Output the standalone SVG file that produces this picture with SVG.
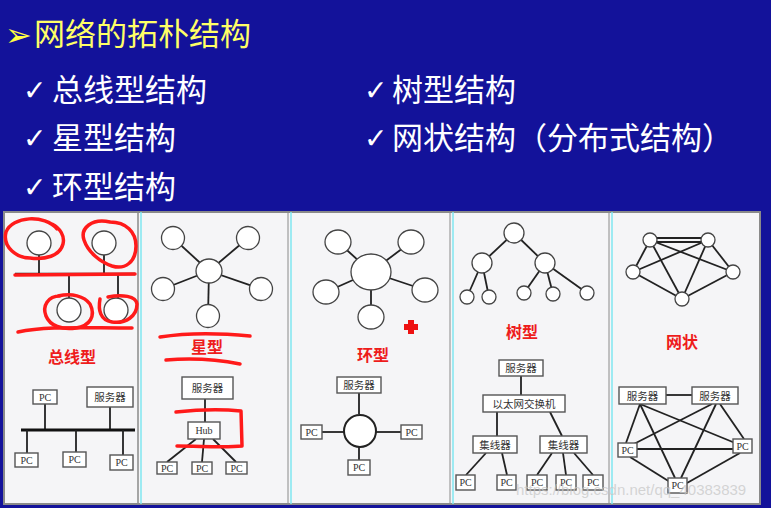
<svg xmlns="http://www.w3.org/2000/svg" width="771" height="508" viewBox="0 0 771 508">
<defs>
<style>
.hd{font-family:"Noto Sans CJK SC","Noto Sans",sans-serif;fill:#ffffff;font-size:31px}
.chk{font-family:"DejaVu Sans",sans-serif;fill:#ffffff;font-size:28px;font-weight:bold}
.nd{fill:#ffffff;stroke:#444;stroke-width:1.3}
.ln{stroke:#222;stroke-width:1.8;fill:none}
.bx{fill:#ffffff;stroke:#555;stroke-width:1.4}
.bt{font-family:"Noto Sans CJK SC",sans-serif;font-size:10.5px;fill:#333;text-anchor:middle}
.pc{font-family:"Liberation Serif",serif;font-size:10px;fill:#333;text-anchor:middle}
.lb{font-family:"Noto Sans CJK SC",sans-serif;font-size:16px;font-weight:bold;fill:#ee1c1c;text-anchor:middle}
.red{stroke:#ff1a1a;stroke-width:3.5;fill:none;stroke-linecap:round;stroke-linejoin:round}
</style>
</defs>
<rect x="0" y="0" width="771" height="508" fill="#13129a"/>
<g id="title">
<text x="5" y="46" font-family="DejaVu Sans,sans-serif" font-size="32" fill="#ffff44">➢</text>
<text x="34" y="45" font-family="Noto Sans CJK SC,sans-serif" font-size="31" fill="#ffff66">网络的拓朴结构</text>
</g>
<g id="bullets">
<text class="chk" x="23" y="100">✓</text><text class="hd" x="52" y="101">总线型结构</text>
<text class="chk" x="23" y="148">✓</text><text class="hd" x="52" y="149">星型结构</text>
<text class="chk" x="23" y="197">✓</text><text class="hd" x="52" y="198">环型结构</text>
<text class="chk" x="364" y="100">✓</text><text class="hd" x="392" y="101">树型结构</text>
<text class="chk" x="364" y="148">✓</text><text class="hd" x="392" y="149">网状结构（分布式结构）</text>
</g>
<g id="panel">
<rect x="4" y="212" width="756" height="292" fill="#f5f5f7" stroke="#8a8a8a" stroke-width="2"/>
<line x1="138" y1="212" x2="138" y2="504" stroke="#8a8a8a" stroke-width="1.5"/>
<line x1="141" y1="212" x2="141" y2="504" stroke="#7fe6f0" stroke-width="1.5"/>
<line x1="288" y1="212" x2="288" y2="504" stroke="#8a8a8a" stroke-width="1"/>
<line x1="291" y1="212" x2="291" y2="504" stroke="#7fe6f0" stroke-width="1.5"/>
<line x1="450" y1="212" x2="450" y2="504" stroke="#8a8a8a" stroke-width="1"/>
<line x1="453" y1="212" x2="453" y2="504" stroke="#7fe6f0" stroke-width="1.5"/>
<line x1="609" y1="212" x2="609" y2="504" stroke="#8a8a8a" stroke-width="1"/>
<line x1="612" y1="212" x2="612" y2="504" stroke="#7fe6f0" stroke-width="1.5"/>
</g>
<g id="connectors">
<line class="ln" x1="39" y1="255" x2="39" y2="274"/>
<line class="ln" x1="104" y1="255" x2="104" y2="274"/>
<line class="ln" x1="69" y1="274" x2="69" y2="298"/>
<line class="ln" x1="118" y1="274" x2="118" y2="298"/>
<line x1="15" y1="274" x2="135" y2="274" stroke="#222" stroke-width="2.5"/>
<line class="ln" x1="45" y1="404" x2="45" y2="430"/>
<line class="ln" x1="110" y1="407" x2="110" y2="430"/>
<line x1="21" y1="430" x2="135" y2="430" stroke="#111" stroke-width="3"/>
<line class="ln" x1="27" y1="430" x2="27" y2="453"/>
<line class="ln" x1="76" y1="430" x2="76" y2="452"/>
<line class="ln" x1="123" y1="430" x2="123" y2="455"/>
<line class="ln" x1="173" y1="238" x2="209" y2="271"/>
<line class="ln" x1="248" y1="238" x2="209" y2="271"/>
<line class="ln" x1="163" y1="289" x2="209" y2="271"/>
<line class="ln" x1="261" y1="289" x2="209" y2="271"/>
<line class="ln" x1="208" y1="316" x2="209" y2="271"/>
<line class="ln" x1="205" y1="399" x2="205" y2="422"/>
<line class="ln" x1="196" y1="439" x2="167" y2="462"/>
<line class="ln" x1="204" y1="439" x2="202" y2="462"/>
<line class="ln" x1="213" y1="439" x2="236" y2="462"/>
<line class="ln" x1="338" y1="242" x2="371" y2="272" stroke-width="2.2"/>
<line class="ln" x1="411" y1="242" x2="371" y2="272" stroke-width="2.2"/>
<line class="ln" x1="326" y1="292" x2="371" y2="272" stroke-width="2.2"/>
<line class="ln" x1="425" y1="290" x2="371" y2="272" stroke-width="2.2"/>
<line class="ln" x1="371" y1="317" x2="371" y2="272" stroke-width="2.2"/>
<line class="ln" x1="359" y1="393" x2="359" y2="414"/>
<line class="ln" x1="322" y1="432" x2="344" y2="432"/>
<line class="ln" x1="376" y1="432" x2="401" y2="432"/>
<line class="ln" x1="359" y1="447" x2="359" y2="460"/>
<line class="ln" x1="514" y1="233" x2="482" y2="263"/>
<line class="ln" x1="514" y1="233" x2="545" y2="263"/>
<line class="ln" x1="482" y1="263" x2="467" y2="297"/>
<line class="ln" x1="482" y1="263" x2="489" y2="297"/>
<line class="ln" x1="545" y1="263" x2="524" y2="293"/>
<line class="ln" x1="545" y1="263" x2="553" y2="294"/>
<line class="ln" x1="545" y1="263" x2="587" y2="293"/>
<line class="ln" x1="521" y1="376" x2="521" y2="395"/>
<line class="ln" x1="497" y1="412" x2="497" y2="436"/>
<line class="ln" x1="550" y1="412" x2="562" y2="436"/>
<line class="ln" x1="486" y1="453" x2="466" y2="475"/>
<line class="ln" x1="502" y1="453" x2="507" y2="475"/>
<line class="ln" x1="552" y1="453" x2="537" y2="475"/>
<line class="ln" x1="563" y1="453" x2="566" y2="475"/>
<line class="ln" x1="574" y1="453" x2="593" y2="475"/>
<line class="ln" x1="650" y1="238" x2="708" y2="238"/>
<line class="ln" x1="650" y1="242" x2="708" y2="242"/>
<line class="ln" x1="650" y1="240" x2="633" y2="272"/>
<line class="ln" x1="650" y1="240" x2="733" y2="272"/>
<line class="ln" x1="650" y1="240" x2="682" y2="299"/>
<line class="ln" x1="708" y1="240" x2="633" y2="272"/>
<line class="ln" x1="708" y1="240" x2="733" y2="272"/>
<line class="ln" x1="708" y1="240" x2="682" y2="299"/>
<line class="ln" x1="633" y1="272" x2="682" y2="299"/>
<line class="ln" x1="733" y1="272" x2="682" y2="299"/>
<line class="ln" x1="666" y1="395" x2="692" y2="395"/>
<line class="ln" x1="640" y1="404" x2="626" y2="443"/>
<line class="ln" x1="640" y1="404" x2="675" y2="478"/>
<line class="ln" x1="640" y1="404" x2="740" y2="445"/>
<line class="ln" x1="712" y1="404" x2="628" y2="447"/>
<line class="ln" x1="716" y1="404" x2="681" y2="478"/>
<line class="ln" x1="720" y1="404" x2="744" y2="439"/>
<line class="ln" x1="637" y1="449" x2="733" y2="449"/>
<line class="ln" x1="630" y1="457" x2="670" y2="482"/>
<line class="ln" x1="740" y1="453" x2="687" y2="483"/>
</g>
<g id="bus">
<circle class="nd" cx="39" cy="243" r="12"/>
<circle class="nd" cx="104" cy="243" r="12"/>
<circle class="nd" cx="69" cy="310" r="12"/>
<circle class="nd" cx="116" cy="310" r="12"/>
<text class="lb" x="72" y="363">总线型</text>
<rect class="bx" x="33" y="390" width="24" height="14"/><text class="pc" x="45" y="401">PC</text>
<rect class="bx" x="87" y="387" width="46" height="20"/><text class="bt" x="110" y="401">服务器</text>
<rect class="bx" x="15" y="453" width="23" height="14"/><text class="pc" x="26.5" y="464">PC</text>
<rect class="bx" x="63" y="452" width="23" height="15"/><text class="pc" x="74.5" y="463">PC</text>
<rect class="bx" x="110" y="455" width="23" height="15"/><text class="pc" x="121.5" y="466">PC</text>
</g>
<g id="star">
<circle class="nd" cx="173" cy="238" r="11.5"/>
<circle class="nd" cx="248" cy="238" r="11.5"/>
<ellipse class="nd" cx="209" cy="271" rx="13" ry="12"/>
<circle class="nd" cx="163" cy="289" r="11.5"/>
<circle class="nd" cx="261" cy="289" r="11.5"/>
<circle class="nd" cx="208" cy="316" r="11.5"/>
<text class="lb" x="207" y="353">星型</text>
<rect class="bx" x="182" y="377" width="51" height="22"/><text class="bt" x="207.5" y="392">服务器</text>
<rect class="bx" x="188" y="422" width="32" height="17"/><text class="pc" x="204" y="434">Hub</text>
<rect class="bx" x="157" y="462" width="20" height="12"/><text class="pc" x="167" y="472">PC</text>
<rect class="bx" x="192" y="462" width="20" height="12"/><text class="pc" x="202" y="472">PC</text>
<rect class="bx" x="226" y="462" width="21" height="12"/><text class="pc" x="236.5" y="472">PC</text>
</g>
<g id="ring">
<ellipse class="nd" cx="338" cy="242" rx="13" ry="12"/>
<ellipse class="nd" cx="411" cy="242" rx="13" ry="12"/>
<ellipse class="nd" cx="371" cy="272" rx="20" ry="18" stroke="#222" stroke-width="2"/>
<ellipse class="nd" cx="326" cy="292" rx="13" ry="12"/>
<ellipse class="nd" cx="425" cy="290" rx="13" ry="12"/>
<ellipse class="nd" cx="371" cy="317" rx="13" ry="12"/>
<path d="M408 320h6v4h4v6h-4v4h-6v-4h-4v-6h4z" fill="#ee1111"/>
<text class="lb" x="373" y="361">环型</text>
<rect class="bx" x="337" y="377" width="44" height="16"/><text class="bt" x="359" y="389">服务器</text>
<circle cx="360" cy="431" r="16" fill="#fff" stroke="#222" stroke-width="2"/>
<rect class="bx" x="301" y="425" width="21" height="14"/><text class="pc" x="311.5" y="436">PC</text>
<rect class="bx" x="401" y="425" width="21" height="14"/><text class="pc" x="411.5" y="436">PC</text>
<rect class="bx" x="348" y="460" width="22" height="15"/><text class="pc" x="359" y="471">PC</text>
</g>
<g id="tree">
<circle class="nd" cx="514" cy="233" r="10"/>
<circle class="nd" cx="482" cy="263" r="10"/>
<circle class="nd" cx="545" cy="263" r="10"/>
<circle class="nd" cx="467" cy="297" r="7"/>
<circle class="nd" cx="489" cy="297" r="7"/>
<circle class="nd" cx="524" cy="293" r="7"/>
<circle class="nd" cx="553" cy="294" r="7"/>
<circle class="nd" cx="587" cy="293" r="7"/>
<text class="lb" x="522" y="338">树型</text>
<rect class="bx" x="499" y="360" width="44" height="16"/><text class="bt" x="521" y="372">服务器</text>
<rect class="bx" x="483" y="395" width="82" height="17"/><text class="bt" x="524" y="407.5">以太网交换机</text>
<rect class="bx" x="473" y="436" width="44" height="17"/><text class="bt" x="495" y="448.5">集线器</text>
<rect class="bx" x="540" y="436" width="47" height="17"/><text class="bt" x="563.5" y="448.5">集线器</text>
<rect class="bx" x="456" y="475" width="19" height="15"/><text class="pc" x="465.5" y="486">PC</text>
<rect class="bx" x="497" y="475" width="19" height="15"/><text class="pc" x="506.5" y="486">PC</text>
<rect class="bx" x="527" y="475" width="20" height="15"/><text class="pc" x="537" y="486">PC</text>
<rect class="bx" x="556" y="475" width="20" height="15"/><text class="pc" x="566" y="486">PC</text>
<rect class="bx" x="583" y="475" width="20" height="15"/><text class="pc" x="593" y="486">PC</text>
</g>
<g id="mesh">
<circle class="nd" cx="650" cy="240" r="7"/>
<circle class="nd" cx="708" cy="240" r="7"/>
<circle class="nd" cx="633" cy="272" r="7"/>
<circle class="nd" cx="733" cy="272" r="7"/>
<circle class="nd" cx="682" cy="299" r="7"/>
<text class="lb" x="682" y="348">网状</text>
<rect class="bx" x="619" y="387" width="47" height="17"/><text class="bt" x="642.5" y="399.5">服务器</text>
<rect class="bx" x="692" y="387" width="46" height="17"/><text class="bt" x="715" y="399.5">服务器</text>
<rect class="bx" x="618" y="443" width="19" height="14"/><text class="pc" x="627.5" y="454">PC</text>
<rect class="bx" x="733" y="439" width="19" height="14"/><text class="pc" x="742.5" y="450">PC</text>
<rect class="bx" x="668" y="478" width="19" height="15"/><text class="pc" x="677.5" y="489">PC</text>
</g>
<g id="annotations">
<path class="red" d="M57 229 C45 214,12 216,6 232 C2 248,18 258,30 258 C45 260,60 256,63 244 C65 236,60 228,52 224"/>
<path class="red" d="M110 222 C92 218,80 228,84 240 C88 252,100 262,112 266 C125 270,136 262,136 246 C136 232,126 222,110 222"/>
<line class="red" x1="15" y1="275" x2="135" y2="274"/>
<path class="red" d="M60 296 C48 296,42 306,46 316 C50 326,62 330,76 328 C90 326,96 316,90 304 C84 296,72 293,58 296"/>
<path class="red" d="M100 299 C98 310,100 320,112 322 C126 324,137 316,137 304 C136 296,122 294,108 297"/>
<path class="red" d="M18 332 C45 326,80 328,132 328"/>
<path class="red" d="M160 337 C185 333,220 333,250 336"/>
<path class="red" d="M166 360 C190 358,215 359,240 364"/>
<path class="red" d="M176 412 C195 410,220 409,241 411 L242 446 C225 448,200 446,177 446"/>
</g>
<text x="516" y="495" font-family="Liberation Sans,sans-serif" font-size="15" fill="#c8c8c8" fill-opacity="0.75">https://blog.csdn.net/qq_40383839</text>
</svg>
